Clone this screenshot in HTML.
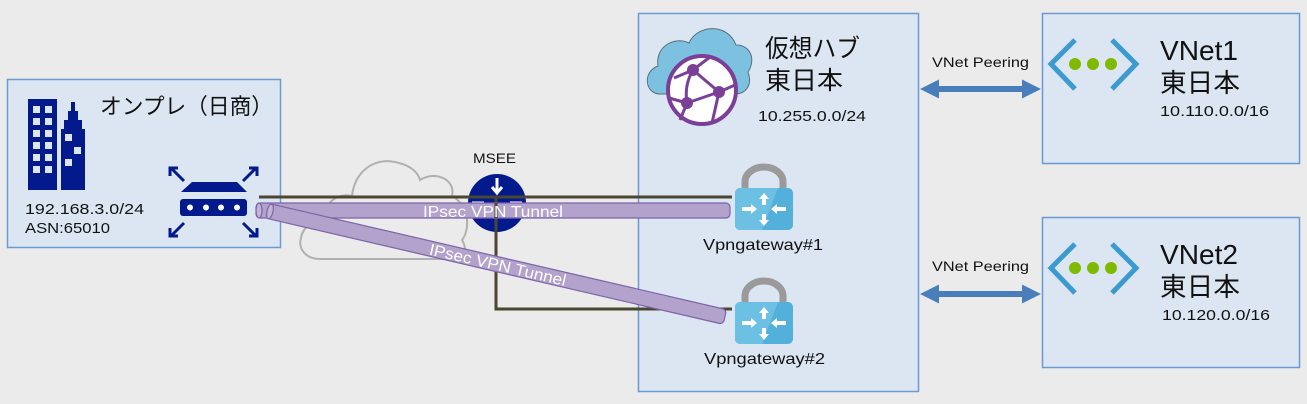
<!DOCTYPE html>
<html><head><meta charset="utf-8"><style>
html,body{margin:0;padding:0;background:#ebebeb;}
svg{display:block;}
text{font-family:"Liberation Sans","Noto Sans CJK JP",sans-serif;}
</style></head><body>
<svg width="1307" height="404" viewBox="0 0 1307 404" xmlns="http://www.w3.org/2000/svg">
<rect x="0" y="0" width="1307" height="404" fill="#ebebeb"/>
<!-- boxes -->
<rect x="7.5" y="79.5" width="273" height="168" fill="#dce6f2" stroke="#6a9ad4" stroke-width="1.5"/>
<rect x="638.5" y="13.5" width="280" height="378" fill="#dce6f2" stroke="#6a9ad4" stroke-width="1.5"/>
<rect x="1042.5" y="13.5" width="257" height="150" fill="#dce6f2" stroke="#6a9ad4" stroke-width="1.5"/>
<rect x="1042.5" y="217.5" width="257" height="150" fill="#dce6f2" stroke="#6a9ad4" stroke-width="1.5"/>

<!-- building -->
<g fill="#031a8c">
<rect x="28" y="99" width="29" height="91"/>
<polygon points="61,190 61,129 64,129 64,120 68,120 68,111 71,111 71,102 75,102 75,111 78,111 78,120 82,120 82,129 85,129 85,190"/>
</g>
<g fill="#dce6f2">
<rect x="33" y="106" width="7" height="7"/><rect x="45" y="106" width="7" height="7"/>
<rect x="33" y="118" width="7" height="7"/><rect x="45" y="118" width="7" height="7"/>
<rect x="33" y="130" width="7" height="7"/><rect x="45" y="130" width="7" height="7"/>
<rect x="33" y="142" width="7" height="7"/><rect x="45" y="142" width="7" height="7"/>
<rect x="33" y="154" width="7" height="7"/><rect x="45" y="154" width="7" height="7"/>
<rect x="33" y="166" width="7" height="7"/><rect x="45" y="166" width="7" height="7"/>
<rect x="65" y="134" width="7" height="7"/><rect x="74" y="147" width="7" height="7"/><rect x="65" y="159" width="7" height="7"/>
</g>

<!-- router -->
<g fill="#031a8c">
<polygon points="192,182 237,182 247,192 181,192"/>
<rect x="180" y="199" width="67" height="17" rx="3"/>
</g>
<g fill="#fff"><circle cx="190" cy="207.5" r="3"/><circle cx="206" cy="207.5" r="3"/><circle cx="221" cy="207.5" r="3"/><circle cx="237" cy="207.5" r="3"/></g>
<g stroke="#031a8c" stroke-width="3" fill="none">
<path d="M184 181 L171 168 M170 176 V168 H178"/>
<path d="M243 181 L256 168 M257 176 V168 H249"/>
<path d="M184 223 L171 236 M170 228 V236 H178"/>
<path d="M243 223 L256 236 M257 228 V236 H249"/>
</g>

<!-- gray cloud -->
<path d="M320 259 C305 259 298 248 301 238 C303 226 314 220 325 222 C322 205 336 192 352 196 C355 170 375 158 395 162 C410 165 418 172 420 180 C436 170 456 180 452 196 C470 206 470 230 462 240 C470 254 460 259 450 259 Z" fill="none" stroke="#b0b0b0" stroke-width="2"/>

<!-- MSEE -->
<circle cx="497" cy="203" r="29" fill="#031a8c"/>
<g stroke="#fff" stroke-width="3" fill="none">
<path d="M497 178 V192"/><path d="M492 187 L497 193 L502 187"/>
<path d="M472 203 H484"/><path d="M510 203 H522"/>
</g>

<!-- dark lines -->
<g stroke="#4a4630" stroke-width="3" fill="none">
<path d="M259 197 H732"/>
<path d="M496 197 V309 H732"/>
</g>

<!-- hub icon -->
<path d="M660 94 C645 94 642 72 658 66 C655 46 675 36 689 43 C697 25 727 22 736 45 C751 45 756 60 748 72 C753 86 745 94 735 94 Z" fill="#7cc2e0" stroke="#5a6e7c" stroke-width="1"/>
<circle cx="702" cy="90" r="34" fill="#fff" stroke="#7b3f98" stroke-width="4"/>
<g stroke="#7b3f98" stroke-width="3" fill="none">
<path d="M693 70 L719 92 L687 103"/>
<path d="M693 70 Q684 85 687 103"/>
<path d="M693 70 L674 78"/><path d="M693 70 L710 57"/>
<path d="M719 92 L735 85"/><path d="M719 92 L712 123"/>
<path d="M687 103 L680 120"/><path d="M687 103 L669 98"/>
</g>
<g fill="#7b3f98"><circle cx="693" cy="70" r="6"/><circle cx="719" cy="92" r="6"/><circle cx="687" cy="103" r="6"/></g>

<!-- lock icons -->
<g id="lock1">
<path d="M745 190 V182 A19 15 0 0 1 783 182 V190" fill="none" stroke="#9a9a9a" stroke-width="7"/>
<rect x="735" y="188" width="58" height="42" rx="5" fill="#52b0da"/>
<path d="M740 188 H778 L762 230 H740 A5 5 0 0 1 735 225 V193 A5 5 0 0 1 740 188 Z" fill="#6cc0e3"/>
<g fill="#fff">
<polygon points="764,193 769,199 766,199 766,205 762,205 762,199 759,199"/>
<polygon points="764,226 769,220 766,220 766,214 762,214 762,220 759,220"/>
<polygon points="757,209 751,204 751,207 742,207 742,211 751,211 751,214"/>
<polygon points="771,209 777,204 777,207 786,207 786,211 777,211 777,214"/>
</g>
</g>
<g transform="translate(0,114)">
<path d="M745 190 V182 A19 15 0 0 1 783 182 V190" fill="none" stroke="#9a9a9a" stroke-width="7"/>
<rect x="735" y="188" width="58" height="42" rx="5" fill="#52b0da"/>
<path d="M740 188 H778 L762 230 H740 A5 5 0 0 1 735 225 V193 A5 5 0 0 1 740 188 Z" fill="#6cc0e3"/>
<g fill="#fff">
<polygon points="764,193 769,199 766,199 766,205 762,205 762,199 759,199"/>
<polygon points="764,226 769,220 766,220 766,214 762,214 762,220 759,220"/>
<polygon points="757,209 751,204 751,207 742,207 742,211 751,211 751,214"/>
<polygon points="771,209 777,204 777,207 786,207 786,211 777,211 777,214"/>
</g>
</g>

<!-- tunnel 1 -->
<rect x="256" y="203" width="474" height="15" rx="4" fill="#b3a2cc" stroke="#7d64a8" stroke-width="1.2"/>
<ellipse cx="259" cy="210.5" rx="3" ry="7.5" fill="#c2b4d8" stroke="#7d64a8" stroke-width="1.2"/>
<path d="M496 203 V218" stroke="#4a4630" stroke-width="3"/>
<text x="493" y="217" font-size="16" fill="#fff" text-anchor="middle" textLength="140" lengthAdjust="spacingAndGlyphs">IPsec VPN Tunnel</text>

<!-- tunnel 2 -->
<g transform="translate(268,211) rotate(13.06)">
<rect x="0" y="-7.5" width="469" height="15" rx="4" fill="#b3a2cc" stroke="#7d64a8" stroke-width="1.2"/>
<ellipse cx="2" cy="0" rx="3" ry="7.5" fill="#c2b4d8" stroke="#7d64a8" stroke-width="1.2"/>
<text x="236" y="6" font-size="16" fill="#fff" text-anchor="middle" textLength="140" lengthAdjust="spacingAndGlyphs">IPsec VPN Tunnel</text>
</g>

<!-- VNet icons -->
<g id="vn1">
<path d="M1075 40 L1051 64 L1075 89 M1112 40 L1136 64 L1112 89" fill="none" stroke="#3b9bd0" stroke-width="5"/>
<g fill="#7fba00"><circle cx="1075" cy="64" r="6"/><circle cx="1093" cy="64" r="6"/><circle cx="1111" cy="64" r="6"/></g>
</g>
<g transform="translate(0,204)">
<path d="M1075 40 L1051 64 L1075 89 M1112 40 L1136 64 L1112 89" fill="none" stroke="#3b9bd0" stroke-width="5"/>
<g fill="#7fba00"><circle cx="1075" cy="64" r="6"/><circle cx="1093" cy="64" r="6"/><circle cx="1111" cy="64" r="6"/></g>
</g>

<!-- peering arrows -->
<g fill="#4a7ebb">
<polygon points="920,89 939,79.5 939,86 1022,86 1022,79.5 1041,89 1022,98.5 1022,92 939,92 939,98.5"/>
<polygon points="920,294 939,284.5 939,291 1022,291 1022,284.5 1041,294 1022,303.5 1022,297 939,297 939,303.5"/>
</g>

<!-- texts -->
<g fill="#111">
<text x="100" y="114" font-size="22" textLength="173" lengthAdjust="spacingAndGlyphs">オンプレ（日商）</text>
<text x="25" y="214" font-size="15" textLength="119" lengthAdjust="spacingAndGlyphs">192.168.3.0/24</text>
<text x="25" y="233" font-size="15" textLength="85" lengthAdjust="spacingAndGlyphs">ASN:65010</text>
<text x="473" y="163" font-size="14" textLength="43" lengthAdjust="spacingAndGlyphs">MSEE</text>
<text x="765" y="57" font-size="25" textLength="95" lengthAdjust="spacingAndGlyphs">仮想ハブ</text>
<text x="765" y="89" font-size="25" textLength="78" lengthAdjust="spacingAndGlyphs">東日本</text>
<text x="758" y="121" font-size="15" textLength="108" lengthAdjust="spacingAndGlyphs">10.255.0.0/24</text>
<text x="932" y="67" font-size="14" textLength="97" lengthAdjust="spacingAndGlyphs">VNet Peering</text>
<text x="932" y="271" font-size="14" textLength="97" lengthAdjust="spacingAndGlyphs">VNet Peering</text>
<text x="703" y="250" font-size="16" textLength="120" lengthAdjust="spacingAndGlyphs">Vpngateway#1</text>
<text x="704" y="364" font-size="16" textLength="121" lengthAdjust="spacingAndGlyphs">Vpngateway#2</text>
<text x="1160" y="60" font-size="28" textLength="78" lengthAdjust="spacingAndGlyphs">VNet1</text>
<text x="1160" y="92" font-size="26" textLength="80" lengthAdjust="spacingAndGlyphs">東日本</text>
<text x="1160" y="116" font-size="15" textLength="109" lengthAdjust="spacingAndGlyphs">10.110.0.0/16</text>
<text x="1160" y="264" font-size="28" textLength="78" lengthAdjust="spacingAndGlyphs">VNet2</text>
<text x="1160" y="296" font-size="26" textLength="80" lengthAdjust="spacingAndGlyphs">東日本</text>
<text x="1162" y="320" font-size="15" textLength="108" lengthAdjust="spacingAndGlyphs">10.120.0.0/16</text>
</g>
</svg>
</body></html>
